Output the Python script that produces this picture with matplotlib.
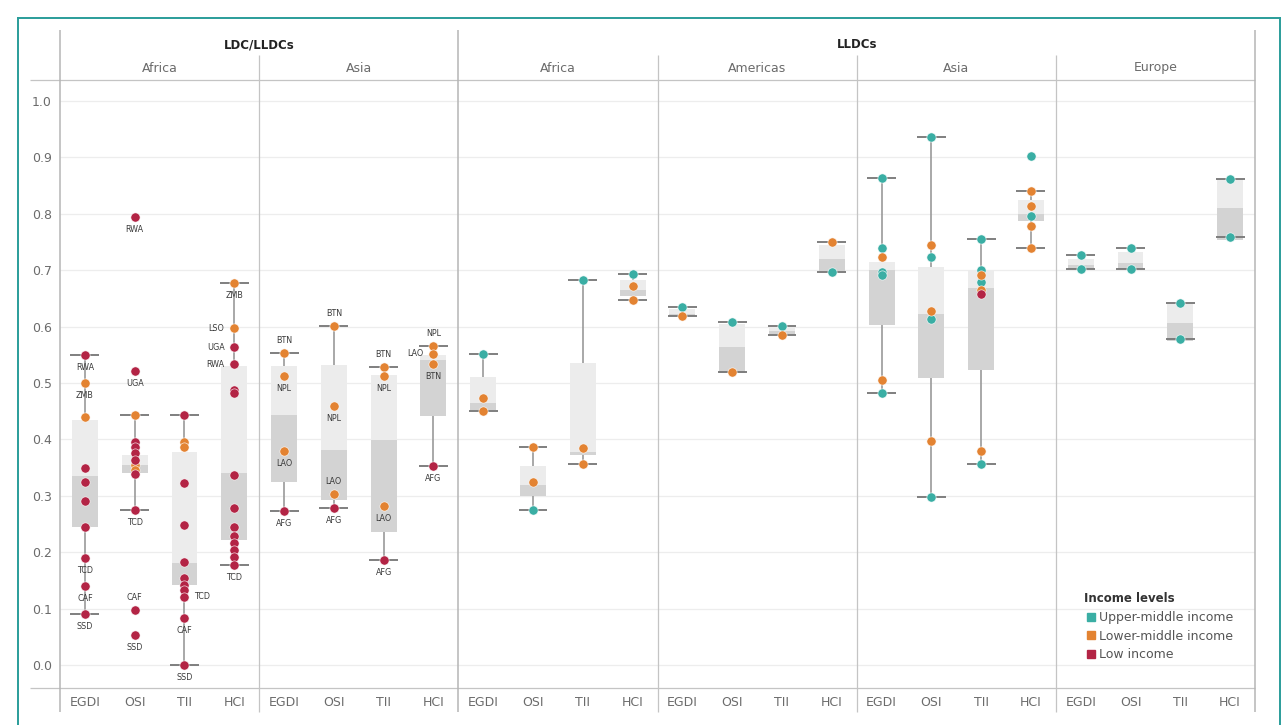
import matplotlib
matplotlib.use("Agg")
import matplotlib.pyplot as plt
from matplotlib.lines import Line2D

# ---------------- data ----------------
groups = ["LDC/LLDCs", "LLDCs"]
regions = ["Africa", "Asia", "Africa", "Americas", "Asia", "Europe"]
region_group = [0, 0, 1, 1, 1, 1]
metrics = ["EGDI", "OSI", "TII", "HCI"]
yticks = [0.0, 0.1, 0.2, 0.3, 0.4, 0.5, 0.6, 0.7, 0.8, 0.9, 1.0]
income_names = ["Upper-middle income", "Lower-middle income", "Low income"]
income_codes = ["U", "M", "L"]

# points per panel: (metric, value, income)
pts_ldc_africa = [
    ("EGDI", 0.55, "L"), ("EGDI", 0.50, "M"), ("EGDI", 0.44, "M"), ("EGDI", 0.35, "L"),
    ("EGDI", 0.325, "L"), ("EGDI", 0.29, "L"), ("EGDI", 0.245, "L"), ("EGDI", 0.19, "L"),
    ("EGDI", 0.14, "L"), ("EGDI", 0.09, "L"),
    ("OSI", 0.795, "L"), ("OSI", 0.522, "L"), ("OSI", 0.443, "M"), ("OSI", 0.396, "L"),
    ("OSI", 0.387, "L"), ("OSI", 0.376, "L"), ("OSI", 0.364, "L"), ("OSI", 0.355, "M"),
    ("OSI", 0.346, "M"), ("OSI", 0.339, "L"), ("OSI", 0.275, "L"), ("OSI", 0.0975, "L"),
    ("OSI", 0.053, "L"),
    ("TII", 0.443, "L"), ("TII", 0.396, "M"), ("TII", 0.387, "M"), ("TII", 0.323, "L"),
    ("TII", 0.248, "L"), ("TII", 0.183, "L"), ("TII", 0.154, "L"), ("TII", 0.142, "L"),
    ("TII", 0.133, "L"), ("TII", 0.121, "L"), ("TII", 0.083, "L"), ("TII", 0.0, "L"),
    ("HCI", 0.677, "M"), ("HCI", 0.597, "M"), ("HCI", 0.563, "L"), ("HCI", 0.533, "L"),
    ("HCI", 0.488, "L"), ("HCI", 0.482, "L"), ("HCI", 0.337, "L"), ("HCI", 0.278, "L"),
    ("HCI", 0.245, "L"), ("HCI", 0.228, "L"), ("HCI", 0.216, "L"), ("HCI", 0.204, "L"),
    ("HCI", 0.192, "L"), ("HCI", 0.177, "L"),
]
pts_ldc_asia = [
    ("EGDI", 0.554, "M"), ("EGDI", 0.513, "M"), ("EGDI", 0.38, "M"), ("EGDI", 0.273, "L"),
    ("OSI", 0.601, "M"), ("OSI", 0.459, "M"), ("OSI", 0.304, "M"), ("OSI", 0.278, "L"),
    ("TII", 0.528, "M"), ("TII", 0.512, "M"), ("TII", 0.282, "M"), ("TII", 0.187, "L"),
    ("HCI", 0.565, "M"), ("HCI", 0.552, "M"), ("HCI", 0.534, "M"), ("HCI", 0.352, "L"),
]
pts_lldc_africa = [
    ("EGDI", 0.551, "U"), ("EGDI", 0.473, "M"), ("EGDI", 0.450, "M"),
    ("OSI", 0.386, "M"), ("OSI", 0.325, "M"), ("OSI", 0.275, "U"),
    ("TII", 0.683, "U"), ("TII", 0.384, "M"), ("TII", 0.356, "M"),
    ("HCI", 0.694, "U"), ("HCI", 0.672, "M"), ("HCI", 0.648, "M"),
]
pts_lldc_americas = [
    ("EGDI", 0.635, "U"), ("EGDI", 0.618, "M"),
    ("OSI", 0.609, "U"), ("OSI", 0.52, "M"),
    ("TII", 0.601, "U"), ("TII", 0.585, "M"),
    ("HCI", 0.75, "M"), ("HCI", 0.696, "U"),
]
pts_lldc_asia = [
    ("EGDI", 0.864, "U"), ("EGDI", 0.74, "U"), ("EGDI", 0.724, "M"), ("EGDI", 0.697, "U"),
    ("EGDI", 0.692, "U"), ("EGDI", 0.505, "M"), ("EGDI", 0.482, "U"),
    ("OSI", 0.937, "U"), ("OSI", 0.745, "M"), ("OSI", 0.724, "U"), ("OSI", 0.628, "M"),
    ("OSI", 0.613, "U"), ("OSI", 0.398, "M"), ("OSI", 0.298, "U"),
    ("TII", 0.755, "U"), ("TII", 0.70, "U"), ("TII", 0.692, "M"), ("TII", 0.679, "U"),
    ("TII", 0.665, "M"), ("TII", 0.658, "L"), ("TII", 0.379, "M"), ("TII", 0.356, "U"),
    ("HCI", 0.903, "U"), ("HCI", 0.84, "M"), ("HCI", 0.814, "M"), ("HCI", 0.796, "U"),
    ("HCI", 0.778, "M"), ("HCI", 0.74, "M"),
]
pts_lldc_europe = [
    ("EGDI", 0.727, "U"), ("EGDI", 0.702, "U"),
    ("OSI", 0.739, "U"), ("OSI", 0.703, "U"),
    ("TII", 0.642, "U"), ("TII", 0.578, "U"),
    ("HCI", 0.861, "U"), ("HCI", 0.758, "U"),
]
panel_points = [pts_ldc_africa, pts_ldc_asia, pts_lldc_africa,
                pts_lldc_americas, pts_lldc_asia, pts_lldc_europe]

# box statistics per panel, in metric order EGDI, OSI, TII, HCI
box_q1 = [[0.245, 0.34, 0.142, 0.222], [0.325, 0.293, 0.236, 0.441],
          [0.452, 0.30, 0.372, 0.655], [0.618, 0.518, 0.587, 0.698],
          [0.603, 0.508, 0.523, 0.788], [0.702, 0.703, 0.575, 0.754]]
box_med = [[0.335, 0.355, 0.18, 0.34], [0.443, 0.381, 0.399, 0.54],
           [0.465, 0.32, 0.378, 0.665], [0.622, 0.564, 0.592, 0.72],
           [0.70, 0.623, 0.668, 0.80], [0.71, 0.712, 0.607, 0.811]]
box_q3 = [[0.435, 0.372, 0.378, 0.53], [0.53, 0.532, 0.514, 0.55],
          [0.511, 0.352, 0.535, 0.682], [0.632, 0.605, 0.598, 0.745],
          [0.715, 0.706, 0.70, 0.825], [0.72, 0.733, 0.64, 0.861]]
whisk_lo = [[0.09, 0.275, 0.0, 0.177], [0.273, 0.278, 0.187, 0.352],
            [0.45, 0.275, 0.356, 0.648], [0.618, 0.52, 0.585, 0.696],
            [0.482, 0.298, 0.356, 0.74], [0.702, 0.703, 0.578, 0.758]]
whisk_hi = [[0.55, 0.443, 0.443, 0.677], [0.554, 0.601, 0.528, 0.565],
            [0.551, 0.386, 0.683, 0.694], [0.635, 0.609, 0.601, 0.75],
            [0.864, 0.937, 0.755, 0.84], [0.727, 0.739, 0.642, 0.861]]

# country labels: (panel, metric, value, code)
labels_data = [
    (0, "EGDI", 0.55, "RWA"), (0, "EGDI", 0.50, "ZMB"), (0, "EGDI", 0.19, "TCD"),
    (0, "EGDI", 0.14, "CAF"), (0, "EGDI", 0.09, "SSD"),
    (0, "OSI", 0.795, "RWA"), (0, "OSI", 0.522, "UGA"), (0, "OSI", 0.275, "TCD"),
    (0, "OSI", 0.0975, "CAF"), (0, "OSI", 0.053, "SSD"),
    (0, "TII", 0.121, "TCD"), (0, "TII", 0.083, "CAF"), (0, "TII", 0.0, "SSD"),
    (0, "HCI", 0.677, "ZMB"), (0, "HCI", 0.597, "LSO"), (0, "HCI", 0.563, "UGA"),
    (0, "HCI", 0.533, "RWA"), (0, "HCI", 0.177, "TCD"),
    (1, "EGDI", 0.554, "BTN"), (1, "EGDI", 0.513, "NPL"), (1, "EGDI", 0.38, "LAO"),
    (1, "EGDI", 0.273, "AFG"),
    (1, "OSI", 0.601, "BTN"), (1, "OSI", 0.459, "NPL"), (1, "OSI", 0.304, "LAO"),
    (1, "OSI", 0.278, "AFG"),
    (1, "TII", 0.528, "BTN"), (1, "TII", 0.512, "NPL"), (1, "TII", 0.282, "LAO"),
    (1, "TII", 0.187, "AFG"),
    (1, "HCI", 0.565, "NPL"), (1, "HCI", 0.552, "LAO"), (1, "HCI", 0.534, "BTN"),
    (1, "HCI", 0.352, "AFG"),
]
# placement of each country label (style, parallel to labels_data)
label_place = [
    "below", "below", "below", "below", "below",
    "below", "below", "below", "above", "below",
    "right", "below", "below",
    "below", "left", "left", "left", "below",
    "above", "below", "below", "below",
    "above", "below", "above", "below",
    "above", "below", "below", "below",
    "above", "left", "below", "below",
]

# ---------------- styling ----------------
W, H = 1282, 725
colors = {"U": "#3aaea4", "M": "#e38332", "L": "#b32445"}
light_box = "#ececec"
dark_box = "#d3d3d3"
grid_col = "#ededed"
sep_col = "#c4c4c4"
text_col = "#6b6b6b"

fig = plt.figure(figsize=(W / 100, H / 100), dpi=100)
fig.patch.set_facecolor("white")

ax_left, ax_right = 60, 1255
ax_top, ax_bottom = 80, 688
ax = fig.add_axes([ax_left / W, 1 - ax_bottom / H, (ax_right - ax_left) / W,
                   (ax_bottom - ax_top) / H])
y_top = (665 - ax_top) / 564
y_bot = (665 - ax_bottom) / 564
ax.set_ylim(y_bot, y_top)
npan = len(regions)
ax.set_xlim(0, 4 * npan)
for s in ax.spines.values():
    s.set_visible(False)
ax.set_xticks([])
ax.set_yticks(yticks)
ax.set_yticklabels([f"{t:.1f}" for t in yticks], fontsize=9, color=text_col)
ax.tick_params(axis="y", length=0, pad=6)

# gridlines
ax.hlines(yticks, 0, 4 * npan, color=grid_col, lw=0.9, zorder=0)

# header/bottom rules
x_ext = (30 - ax_left) / (ax_right - ax_left) * 4 * npan
ax.hlines([y_top, y_bot], x_ext, 4 * npan, color=sep_col, lw=0.9, clip_on=False, zorder=1)

def frac(py):
    return (ax_bottom - py) / (ax_bottom - ax_top)

# separators
for p in range(npan + 1):
    major = p == 0 or p == npan or region_group[min(p, npan - 1)] != region_group[p - 1]
    top_py = 30 if major else 55
    ax.vlines(4 * p, frac(712), frac(top_py), transform=ax.get_xaxis_transform(),
              color="#b5b5b5" if major else sep_col, lw=1.1 if major else 0.9,
              clip_on=False, zorder=1)

# group headers and region labels
def px2x(xd):
    return ax_left + xd / (4 * npan) * (ax_right - ax_left)

for g, name in enumerate(groups):
    idx = [i for i, rg in enumerate(region_group) if rg == g]
    xc = (px2x(4 * idx[0]) + px2x(4 * (idx[-1] + 1))) / 2
    fig.text(xc / W, 1 - 45 / H, name, ha="center", va="center", fontsize=8.5,
             fontweight="bold", color="#222222")
for p, r in enumerate(regions):
    xc = px2x(4 * p + 2)
    fig.text(xc / W, 1 - 68 / H, r, ha="center", va="center", fontsize=9, color=text_col)
    for i, m in enumerate(metrics):
        fig.text(px2x(4 * p + i + 0.5) / W, 1 - 702 / H, m, ha="center", va="center",
                 fontsize=9, color=text_col)

# boxes, whiskers, caps
bw = 0.52
cw = 0.29
for p in range(npan):
    xs = [4 * p + i + 0.5 for i in range(4)]
    for i, x in enumerate(xs):
        ax.vlines(x, whisk_lo[p][i], whisk_hi[p][i], color="#9a9a9a", lw=1.2, zorder=2)
    q1 = box_q1[p]; md = box_med[p]; q3 = box_q3[p]
    ax.bar(xs, [md[i] - q1[i] for i in range(4)], bottom=q1, width=bw,
           color=dark_box, zorder=3, linewidth=0)
    ax.bar(xs, [q3[i] - md[i] for i in range(4)], bottom=md, width=bw,
           color=light_box, zorder=3, linewidth=0)
    for i, x in enumerate(xs):
        ax.hlines([whisk_lo[p][i], whisk_hi[p][i]], x - cw, x + cw, color="#757575",
                  lw=1.3, zorder=4)

# points
for p, pts in enumerate(panel_points):
    for code in ["U", "M", "L"]:
        xv = [4 * p + metrics.index(m) + 0.5 for m, v, c in pts if c == code]
        yv = [v for m, v, c in pts if c == code]
        if xv:
            ax.scatter(xv, yv, s=44, color=colors[code], edgecolors="white",
                       linewidths=0.4, zorder=5)

# country labels
offsets = {"below": (0, -9, "center", "center"), "above": (0, 9, "center", "center"),
           "left": (-7, 0, "right", "center"), "right": (7, 0, "left", "center")}
for (p, m, v, code), place in zip(labels_data, label_place):
    dx, dy, ha, va = offsets[place]
    ax.annotate(code, (4 * p + metrics.index(m) + 0.5, v), xytext=(dx, dy),
                textcoords="offset points", ha=ha, va=va, fontsize=5.8,
                color="#3a3a3a", zorder=6)

# legend
handles = [Line2D([], [], marker="s", ls="", color=colors[c], markersize=5.5)
           for c in income_codes]
leg = ax.legend(handles, income_names, title="Income levels", loc="upper left",
                bbox_to_anchor=(1078 / W, 1 - 586 / H), bbox_transform=fig.transFigure,
                frameon=False, fontsize=9, handletextpad=0.2, labelspacing=0.45,
                borderpad=0, handlelength=1.0, alignment="left",
                title_fontproperties={"weight": "bold", "size": 8.5})
for t in leg.get_texts():
    t.set_color("#555555")
leg.get_title().set_color("#333333")

# teal frame
teal = "#2a9d9a"
for (x0, y0, x1, y1) in [(18, 18, 18, 725), (18, 18, 1280, 18), (1280, 18, 1280, 725)]:
    fig.add_artist(Line2D([x0 / W, x1 / W], [1 - y0 / H, 1 - y1 / H], color=teal,
                          lw=1.4, transform=fig.transFigure))

fig.savefig("out.png", dpi=100)
